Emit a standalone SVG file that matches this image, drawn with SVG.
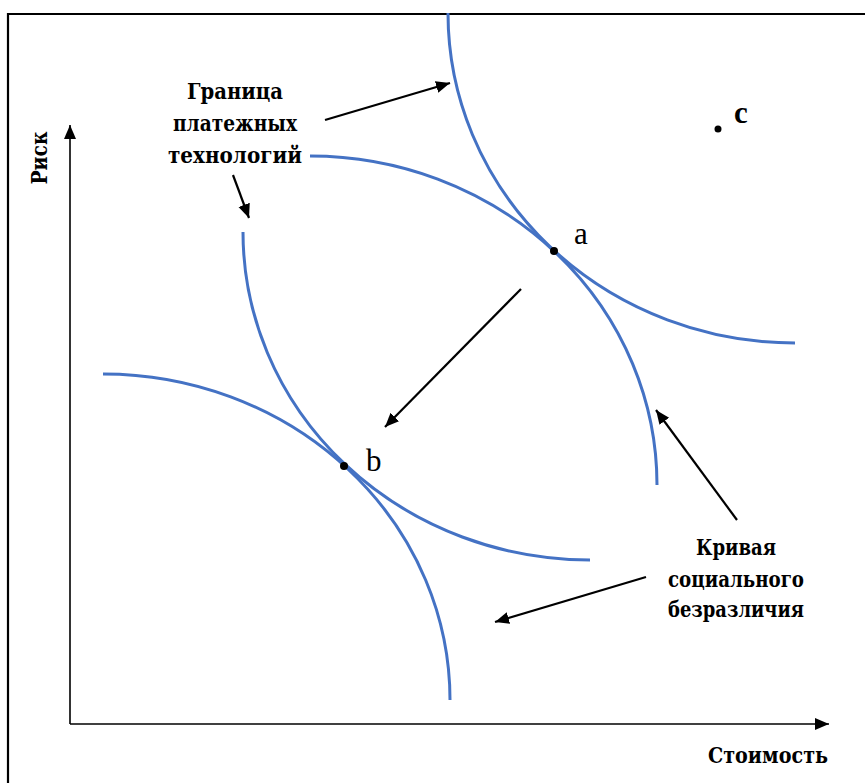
<svg xmlns="http://www.w3.org/2000/svg" width="865" height="783" viewBox="0 0 865 783">
<defs>
<marker id="ah" markerUnits="userSpaceOnUse" markerWidth="16" markerHeight="14" refX="14" refY="6" orient="auto">
<path d="M0,0 L14,6 L0,12 Z" fill="#000"/>
</marker>
</defs>
<style>
.crv{fill:none;stroke:#4472C4;stroke-width:3}
.ptr{fill:none;stroke:#000;stroke-width:2.2;marker-end:url(#ah)}
.ax{fill:none;stroke:#000;stroke-width:1.6;marker-end:url(#ah)}
.lbl{font-family:"DejaVu Serif","Liberation Serif",serif;font-weight:bold;font-size:22px;fill:#000;text-anchor:middle}
.pt{font-family:"Liberation Serif",serif;font-size:31px;fill:#000}
</style>
<rect width="865" height="783" fill="#fff"/>
<path d="M8,783 V14 H865" fill="none" stroke="#000" stroke-width="2.2"/>
<g id="axes">
<path class="ax" d="M70,724 V125"/>
<path class="ax" d="M70,724 H829"/>
</g>
<g id="curves">
<path id="upper-convex" class="crv" d="M448,13 A347,330 0 0 0 795,343"/>
<path id="upper-concave" class="crv" d="M310,156 A347,329 0 0 1 657,485"/>
<path id="lower-convex" class="crv" d="M243,232 A347,328 0 0 0 590,560"/>
<path id="lower-concave" class="crv" d="M103,374 A347,326 0 0 1 450,700"/>
</g>
<g id="connectors">
<path class="ptr" d="M325,120 L450,83"/>
<path class="ptr" d="M233,175 L249,218"/>
<path class="ptr" d="M521,289 L385,427"/>
<path class="ptr" d="M737,520 L656,410"/>
<path class="ptr" d="M646,577 L495,622"/>
</g>
<g id="point-a"><circle cx="554" cy="251" r="4"/><text class="pt" x="574" y="244">a</text></g>
<g id="point-b"><circle cx="344" cy="466" r="4"/><text class="pt" x="366" y="471">b</text></g>
<g id="point-c"><circle cx="718" cy="129" r="3.5"/><text class="pt" x="734" y="123" font-weight="bold" font-size="27">c</text></g>
<g id="label-frontier">
<text class="lbl" x="235" y="99" textLength="96" lengthAdjust="spacingAndGlyphs">Граница</text>
<text class="lbl" x="235" y="131" textLength="124" lengthAdjust="spacingAndGlyphs">платежных</text>
<text class="lbl" x="235" y="163" textLength="134" lengthAdjust="spacingAndGlyphs">технологий</text>
</g>
<g id="label-indiff">
<text class="lbl" x="736" y="555" textLength="80" lengthAdjust="spacingAndGlyphs">Кривая</text>
<text class="lbl" x="736" y="587" textLength="136" lengthAdjust="spacingAndGlyphs">социального</text>
<text class="lbl" x="736" y="617" textLength="136" lengthAdjust="spacingAndGlyphs">безразличия</text>
</g>
<g id="label-y"><text class="lbl" transform="translate(47,158) rotate(-90)" textLength="53" lengthAdjust="spacingAndGlyphs">Риск</text></g>
<g id="label-x"><text class="lbl" x="768" y="763" textLength="120" lengthAdjust="spacingAndGlyphs">Стоимость</text></g>
</svg>
